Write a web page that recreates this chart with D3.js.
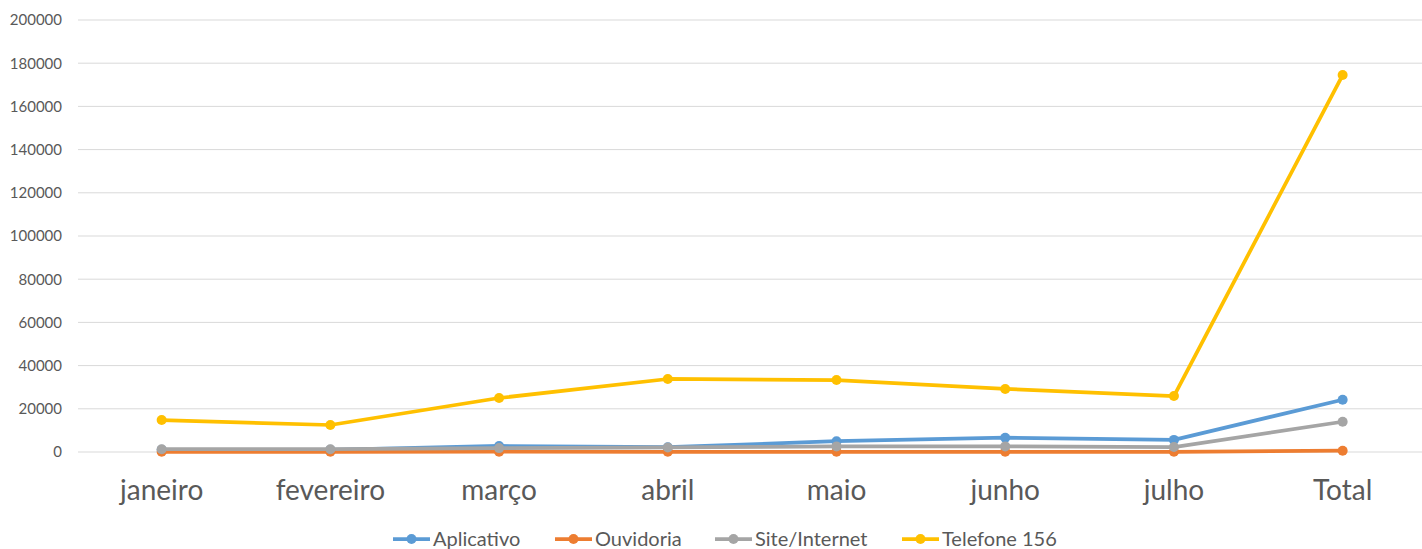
<!DOCTYPE html>
<html><head><meta charset="utf-8">
<script src="https://cdn.jsdelivr.net/npm/d3@7"></script>
<style>
html,body{margin:0;padding:0;background:#fff;}
svg text{font-family:Lato,"Open Sans",sans-serif;}
</style></head>
<body><svg id="c" width="1422" height="549"></svg>
<script>
const categories = ["janeiro","fevereiro","março","abril","maio","junho","julho","Total"];
const aplicativo = [1000, 1000, 2800, 2200, 5000, 6600, 5600, 24200];
const ouvidoria  = [100, 80, 120, 110, 100, 90, 100, 600];
const site       = [1300, 1300, 1800, 2100, 2600, 2600, 2300, 14000];
const telefone   = [14800, 12500, 25000, 33800, 33300, 29200, 25900, 174500];
const yTicks = [0,20000,40000,60000,80000,100000,120000,140000,160000,180000,200000];
const seriesNames = ["Aplicativo","Ouvidoria","Site/Internet","Telefone 156"];
const seriesColors = ["#5B9BD5","#ED7D31","#A5A5A5","#FFC000"];

(function(){
const series = [aplicativo, ouvidoria, site, telefone].map((v,i)=>({name:seriesNames[i], color:seriesColors[i], values:v}));
const svg = d3.select("#c");
const pLeft = 77.3, pRight = 1427, pTop = 20, pBottom = 452, gridRight = 1422;
const x = d3.scaleBand().domain(categories).range([pLeft, pRight]);
const y = d3.scaleLinear().domain([0, 200000]).range([pBottom, pTop]);

svg.append("g").selectAll("line").data(yTicks).join("line")
  .attr("x1", 78).attr("x2", gridRight)
  .attr("y1", d=>y(d)).attr("y2", d=>y(d))
  .attr("stroke", "#D9D9D9").attr("stroke-width", 1);

const yAxis = d3.axisLeft(y).tickValues(yTicks).tickSize(0).tickPadding(16).tickFormat(d3.format("d"));
const ya = svg.append("g").attr("transform", `translate(78,0)`).call(yAxis);
ya.select(".domain").remove();
ya.selectAll("text").attr("fill","#595959").style("font-size","15px").style("font-family","Lato");

const xAxis = d3.axisBottom(x).tickSize(0);
const xa = svg.append("g").attr("transform", `translate(0,${pBottom})`).call(xAxis);
xa.select(".domain").remove();
xa.selectAll("text").attr("fill","#595959").style("font-size","28px").style("font-family","Lato")
  .attr("y", 48).attr("dy", 0);

const cx = d => x(d) + x.bandwidth()/2;
const line = d3.line().x((d,i)=>cx(categories[i])).y(d=>y(d));

series.forEach(s=>{
  const g = svg.append("g");
  g.append("path").datum(s.values).attr("d", line)
    .attr("fill","none").attr("stroke", s.color).attr("stroke-width", 3.75)
    .attr("stroke-linejoin","round").attr("stroke-linecap","round");
  g.selectAll("circle").data(s.values).join("circle")
    .attr("cx",(d,i)=>cx(categories[i])).attr("cy", d=>y(d)).attr("r", 5)
    .attr("fill", s.color);
});

const legendX = [393, 555, 715, 902];
const ly = 539;
const lg = svg.append("g");
series.forEach((s,i)=>{
  const lx = legendX[i];
  lg.append("line").attr("x1", lx).attr("x2", lx+37).attr("y1", ly).attr("y2", ly)
    .attr("stroke", s.color).attr("stroke-width", 3.75);
  lg.append("circle").attr("cx", lx+18.5).attr("cy", ly).attr("r", 5).attr("fill", s.color);
  lg.append("text").attr("x", lx+40).attr("y", 546)
    .attr("fill","#595959").style("font-size","20px").text(s.name);
});
})();
</script></body></html>
